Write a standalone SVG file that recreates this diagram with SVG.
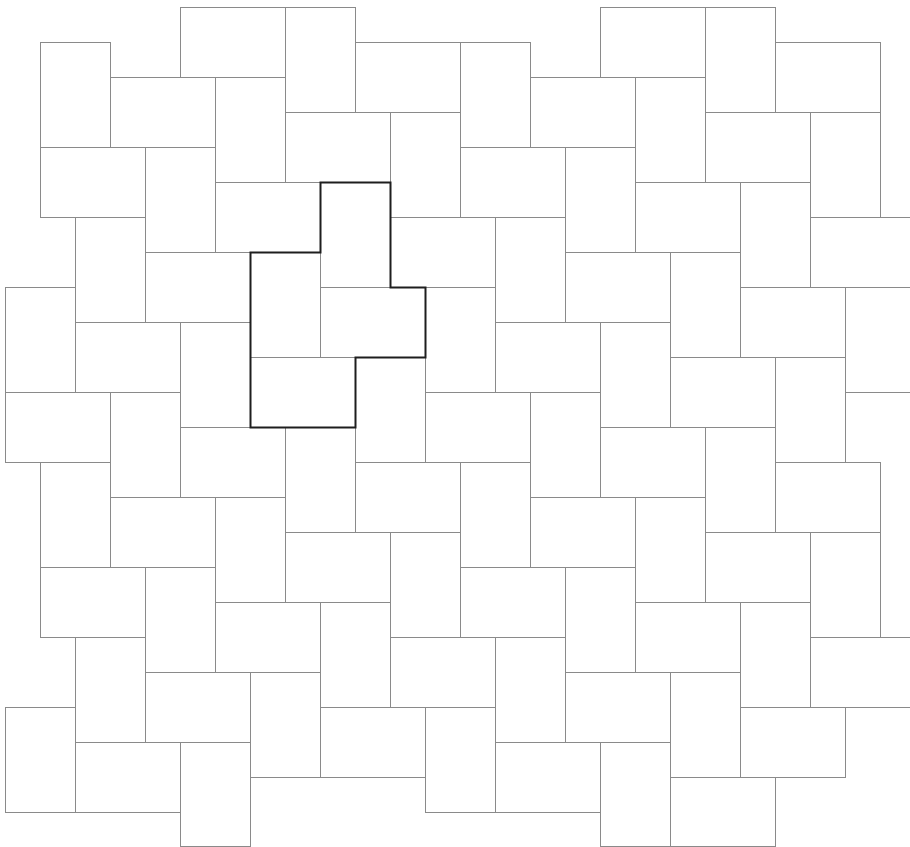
<svg xmlns="http://www.w3.org/2000/svg" width="910" height="847" viewBox="0 0 910 847">
<style>
rect{fill:#fff;stroke:#8a8a8a;stroke-width:1}
.h{width:105px;height:70px}
.v{width:70px;height:105px}
.outline{fill:none;stroke:#1e1e1e;stroke-width:2;stroke-linejoin:miter}
</style>
<rect x="0" y="0" width="910" height="847" style="stroke:none;fill:#fff"/>
<g id="tiles" transform="translate(0.5,0.5)">
<g id="horizontal">
<rect class="h" x="180" y="7" width="105" height="70"/><rect class="h" x="600" y="7" width="105" height="70"/>
<rect class="h" x="355" y="42" width="105" height="70"/><rect class="h" x="775" y="42" width="105" height="70"/>
<rect class="h" x="110" y="77" width="105" height="70"/><rect class="h" x="530" y="77" width="105" height="70"/>
<rect class="h" x="285" y="112" width="105" height="70"/><rect class="h" x="705" y="112" width="105" height="70"/>
<rect class="h" x="40" y="147" width="105" height="70"/><rect class="h" x="460" y="147" width="105" height="70"/>
<rect class="h" x="215" y="182" width="105" height="70"/><rect class="h" x="635" y="182" width="105" height="70"/>
<rect class="h" x="390" y="217" width="105" height="70"/><rect class="h" x="810" y="217" width="105" height="70"/>
<rect class="h" x="145" y="252" width="105" height="70"/><rect class="h" x="565" y="252" width="105" height="70"/>
<rect class="h" x="320" y="287" width="105" height="70"/><rect class="h" x="740" y="287" width="105" height="70"/>
<rect class="h" x="75" y="322" width="105" height="70"/><rect class="h" x="495" y="322" width="105" height="70"/>
<rect class="h" x="250" y="357" width="105" height="70"/><rect class="h" x="670" y="357" width="105" height="70"/>
<rect class="h" x="5" y="392" width="105" height="70"/><rect class="h" x="425" y="392" width="105" height="70"/>
<rect class="h" x="180" y="427" width="105" height="70"/><rect class="h" x="600" y="427" width="105" height="70"/>
<rect class="h" x="355" y="462" width="105" height="70"/><rect class="h" x="775" y="462" width="105" height="70"/>
<rect class="h" x="110" y="497" width="105" height="70"/><rect class="h" x="530" y="497" width="105" height="70"/>
<rect class="h" x="285" y="532" width="105" height="70"/><rect class="h" x="705" y="532" width="105" height="70"/>
<rect class="h" x="40" y="567" width="105" height="70"/><rect class="h" x="460" y="567" width="105" height="70"/>
<rect class="h" x="215" y="602" width="105" height="70"/><rect class="h" x="635" y="602" width="105" height="70"/>
<rect class="h" x="390" y="637" width="105" height="70"/><rect class="h" x="810" y="637" width="105" height="70"/>
<rect class="h" x="145" y="672" width="105" height="70"/><rect class="h" x="565" y="672" width="105" height="70"/>
<rect class="h" x="320" y="707" width="105" height="70"/><rect class="h" x="740" y="707" width="105" height="70"/>
<rect class="h" x="75" y="742" width="105" height="70"/><rect class="h" x="495" y="742" width="105" height="70"/>
<rect x="670" y="777" width="105" height="69"/>
</g>
<g id="vertical">
<rect class="v" x="285" y="7" width="70" height="105"/><rect class="v" x="705" y="7" width="70" height="105"/>
<rect class="v" x="40" y="42" width="70" height="105"/><rect class="v" x="460" y="42" width="70" height="105"/>
<rect class="v" x="215" y="77" width="70" height="105"/><rect class="v" x="635" y="77" width="70" height="105"/>
<rect class="v" x="390" y="112" width="70" height="105"/><rect class="v" x="810" y="112" width="70" height="105"/>
<rect class="v" x="145" y="147" width="70" height="105"/><rect class="v" x="565" y="147" width="70" height="105"/>
<rect class="v" x="320" y="182" width="70" height="105"/><rect class="v" x="740" y="182" width="70" height="105"/>
<rect class="v" x="75" y="217" width="70" height="105"/><rect class="v" x="495" y="217" width="70" height="105"/>
<rect class="v" x="250" y="252" width="70" height="105"/><rect class="v" x="670" y="252" width="70" height="105"/>
<rect class="v" x="5" y="287" width="70" height="105"/><rect class="v" x="425" y="287" width="70" height="105"/><rect class="v" x="845" y="287" width="70" height="105"/>
<rect class="v" x="180" y="322" width="70" height="105"/><rect class="v" x="600" y="322" width="70" height="105"/>
<rect class="v" x="355" y="357" width="70" height="105"/><rect class="v" x="775" y="357" width="70" height="105"/>
<rect class="v" x="110" y="392" width="70" height="105"/><rect class="v" x="530" y="392" width="70" height="105"/>
<rect class="v" x="285" y="427" width="70" height="105"/><rect class="v" x="705" y="427" width="70" height="105"/>
<rect class="v" x="40" y="462" width="70" height="105"/><rect class="v" x="460" y="462" width="70" height="105"/>
<rect class="v" x="215" y="497" width="70" height="105"/><rect class="v" x="635" y="497" width="70" height="105"/>
<rect class="v" x="390" y="532" width="70" height="105"/><rect class="v" x="810" y="532" width="70" height="105"/>
<rect class="v" x="145" y="567" width="70" height="105"/><rect class="v" x="565" y="567" width="70" height="105"/>
<rect class="v" x="320" y="602" width="70" height="105"/><rect class="v" x="740" y="602" width="70" height="105"/>
<rect class="v" x="75" y="637" width="70" height="105"/><rect class="v" x="495" y="637" width="70" height="105"/>
<rect class="v" x="250" y="672" width="70" height="105"/><rect class="v" x="670" y="672" width="70" height="105"/>
<rect class="v" x="5" y="707" width="70" height="105"/><rect class="v" x="425" y="707" width="70" height="105"/>
<rect x="180" y="742" width="70" height="104"/><rect x="600" y="742" width="70" height="104"/>
</g>
</g>
<g id="outline">
<path class="outline" d="M320.5 182.5 H390.5 V287.5 H425.5 V357.5 H355.5 V427.5 H250.5 V252.5 H320.5 Z"/>
</g>
</svg>
